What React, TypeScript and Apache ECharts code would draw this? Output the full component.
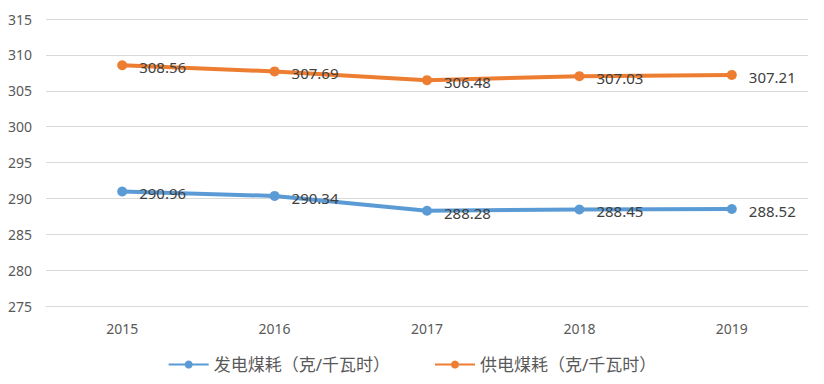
import React, { useEffect, useRef } from "react";
import * as echarts from "echarts";

const years = ["2015", "2016", "2017", "2018", "2019"];
const genCoal = [290.96, 290.34, 288.28, 288.45, 288.52];
const supplyCoal = [308.56, 307.69, 306.48, 307.03, 307.21];
const seriesNames = ["发电煤耗（克/千瓦时）", "供电煤耗（克/千瓦时）"];
const colors = ["#5B9BD5", "#ED7D31"];

export default function App() {
  const ref = useRef<HTMLDivElement>(null);
  useEffect(() => {
    if (!ref.current) return;
    const chart = echarts.init(ref.current, null, { renderer: "svg" });
    const font = "'Noto Sans', 'Noto Sans CJK SC', sans-serif";
    const mkSeries = (name: string, data: number[], color: string) => ({
      name,
      type: "line",
      data,
      symbol: "circle",
      symbolSize: 10,
      lineStyle: { width: 4, color },
      itemStyle: { color },
      label: {
        show: true,
        position: "right",
        offset: [7, 2],
        color: "#404040",
        fontSize: 15,
        fontFamily: font,
        formatter: (p: any) => p.value.toFixed(2),
      },
    });
    chart.setOption({
      animation: false,
      backgroundColor: "#ffffff",
      textStyle: { fontFamily: font },
      grid: { left: 46, right: 16, top: 19, bottom: 78 },
      legend: {
        bottom: 6,
        left: "center",
        itemWidth: 40,
        itemHeight: 10,
        itemGap: 44,
        textStyle: { color: "#595959", fontSize: 17, fontFamily: font },
        data: seriesNames,
      },
      xAxis: {
        type: "category",
        data: years,
        boundaryGap: true,
        axisTick: { show: false },
        axisLine: { lineStyle: { color: "#d9d9d9" } },
        axisLabel: { color: "#595959", fontSize: 14, margin: 15, fontFamily: font },
      },
      yAxis: {
        type: "value",
        min: 275,
        max: 315,
        interval: 5,
        axisLine: { show: false },
        axisTick: { show: false },
        splitLine: { lineStyle: { color: "#d9d9d9" } },
        axisLabel: { color: "#595959", fontSize: 14, margin: 14, fontFamily: font },
      },
      series: [
        mkSeries(seriesNames[0], genCoal, colors[0]),
        mkSeries(seriesNames[1], supplyCoal, colors[1]),
      ],
    });
    return () => chart.dispose();
  }, []);
  return (
    <div
      ref={ref}
      style={{ position: "fixed", left: 0, top: 0, width: 824, height: 384 }}
    />
  );
}
